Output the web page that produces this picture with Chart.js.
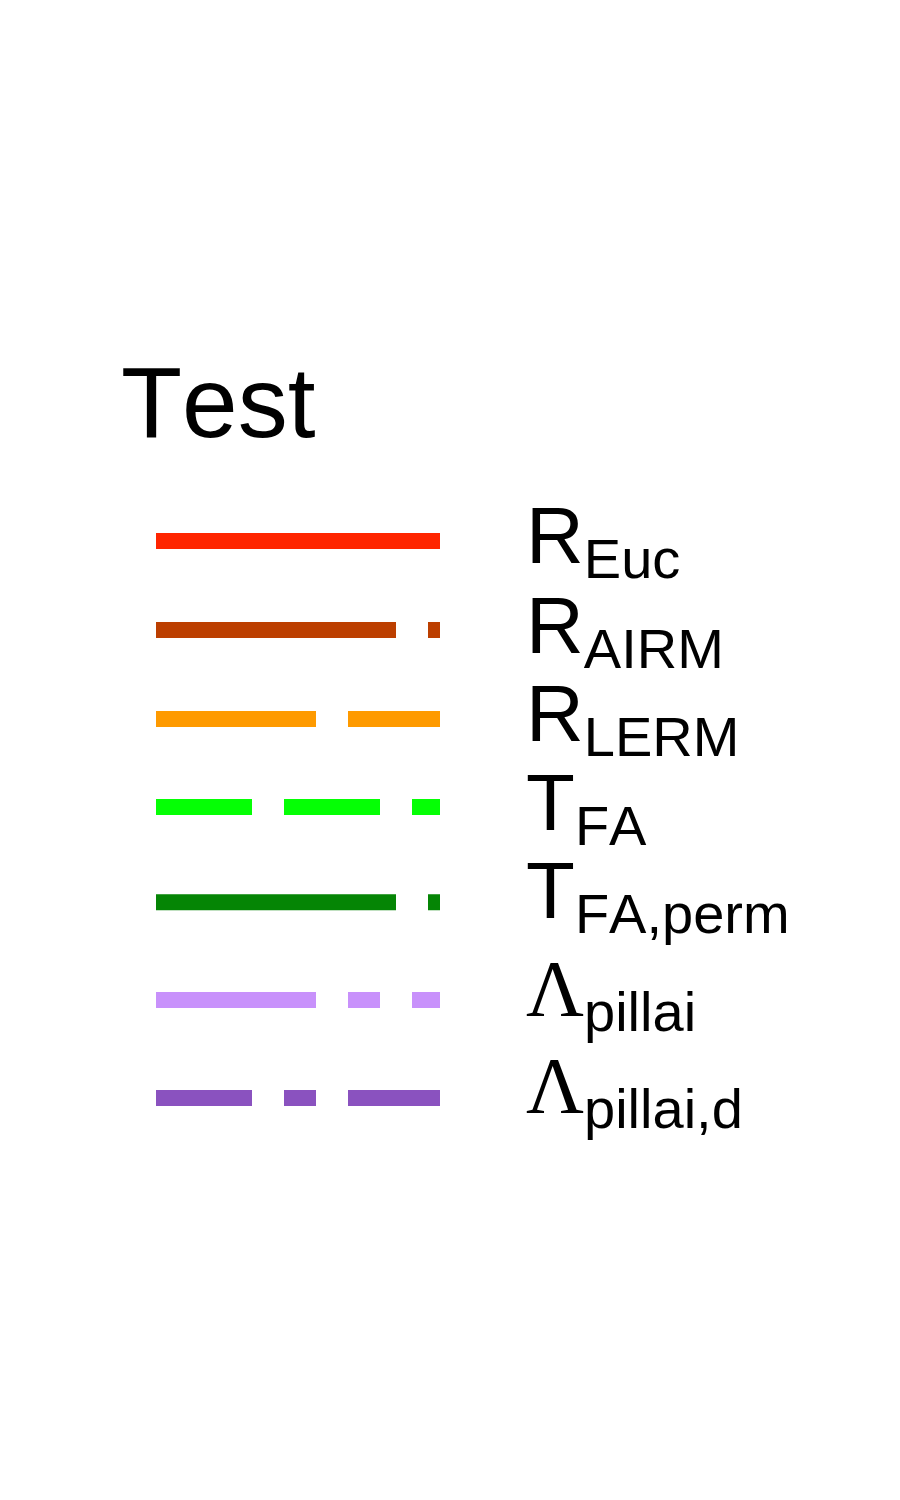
<!DOCTYPE html>
<html>
<head>
<meta charset="utf-8">
<script src="https://cdn.jsdelivr.net/npm/chart.js@4.4.0/dist/chart.umd.min.js"></script>
<style>
  html, body { margin: 0; padding: 0; background: #fff; }
  #wrap { position: relative; width: 900px; height: 1500px; overflow: hidden; }
  #legend-chart { position: absolute; left: 0; top: 0; }
  .txt { position: absolute; white-space: nowrap; color: #000; line-height: 1;
         font-family: 'Liberation Sans', Arial, sans-serif; font-kerning: none; }
  .main { font-size: 80px; }
  .greek { font-family: 'Liberation Serif', 'Times New Roman', serif; }
  .sub { font-size: 56px; position: relative; top: 15px; }
  .mark { display: inline-block; width: 0; height: 0; }
  #title { font-size: 100px; }
</style>
</head>
<body>
<div id="wrap">
  <canvas id="legend-chart" width="900" height="1500"></canvas>
</div>
<script>
const titleText = 'Test';
const symbols = ['R', 'R', 'R', 'T', 'T', 'Λ', 'Λ'];
const subscripts = ['Euc', 'AIRM', 'LERM', 'FA', 'FA,perm', 'pillai', 'pillai,d'];
// vertical position of each legend key (rows with descenders sit a bit lower)
const rowPos = [0, 1, 2, 2.99, 4.06, 5.16, 6.26];
const keySpan = [0, 1];
const colors = ['#ff2500', '#bc3f00', '#fe9a00', '#05ff05', '#058505', '#c891fb', '#8a52bf'];
const dashes = [[], [240, 32], [160, 32], [96, 32], [240, 32], [160, 32, 32, 32], [96, 32, 32, 32]];

// layout only
const labelShift = [22, 23, 22, 23, 16, 16, 15];
const labelGap = 86;

const wrap = document.getElementById('wrap');
const canvas = document.getElementById('legend-chart');

const datasets = subscripts.map((name, i) => ({
  label: symbols[i] + '_' + name,
  data: keySpan.map(x => ({ x: x, y: rowPos[i] })),
  borderColor: colors[i],
  borderWidth: 16,
  borderDash: dashes[i],
  borderCapStyle: 'butt',
  pointRadius: 0,
  tension: 0,
  clip: false
}));

const chart = new Chart(canvas, {
  type: 'line',
  data: { datasets: datasets },
  options: {
    responsive: false,
    animation: false,
    devicePixelRatio: 1,
    layout: { padding: { left: 156, right: 460, top: 541, bottom: 402 } },
    plugins: { legend: { display: false }, tooltip: { enabled: false }, title: { display: false } },
    scales: {
      x: { type: 'linear', min: 0, max: 1, display: false },
      y: { type: 'linear', min: 0, max: 6.26, reverse: true, display: false }
    }
  }
});

function placeAt(el, x, baseline) {
  el.style.left = x + 'px';
  el.style.top = '0px';
  const b = el.querySelector('.mark').offsetTop;
  el.style.top = (baseline - b) + 'px';
}

const area = chart.chartArea;
const yScale = chart.scales.y;

const title = document.createElement('div');
title.id = 'title';
title.className = 'txt';
title.innerHTML = titleText + '<span class="mark"></span>';
wrap.appendChild(title);
placeAt(title, area.left - 35, yScale.getPixelForValue(rowPos[0]) - 104);

symbols.forEach((sym, i) => {
  const el = document.createElement('div');
  el.className = 'txt';
  const main = document.createElement('span');
  main.className = sym === 'Λ' ? 'main greek' : 'main';
  main.textContent = sym;
  const sub = document.createElement('span');
  sub.className = 'sub';
  sub.textContent = subscripts[i];
  const mark = document.createElement('span');
  mark.className = 'mark';
  el.appendChild(main);
  el.appendChild(sub);
  el.appendChild(mark);
  wrap.appendChild(el);
  placeAt(el, area.right + labelGap, yScale.getPixelForValue(rowPos[i]) + labelShift[i]);
});
</script>
</body>
</html>
